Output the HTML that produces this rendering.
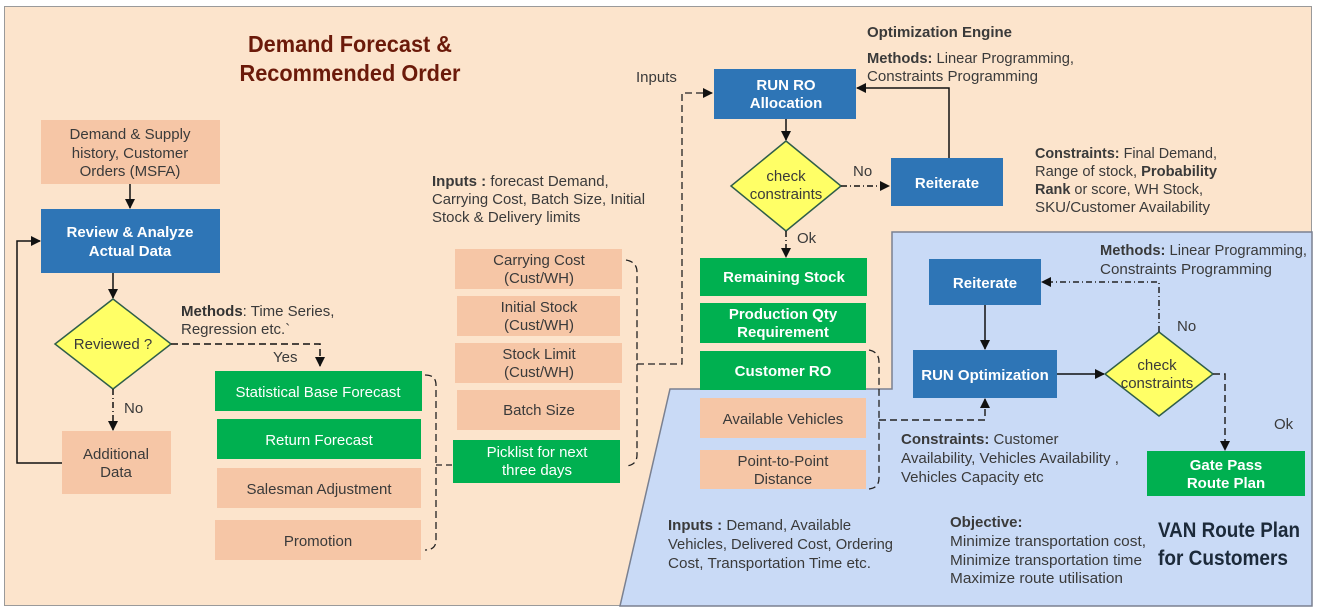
<!DOCTYPE html>
<html><head><meta charset="utf-8"><style>
html,body{margin:0;padding:0;background:#fff;}
svg{display:block;}
text{font-family:"Liberation Sans Narrow","Liberation Sans",sans-serif;font-size:15px;fill:#3a3a3a;}
.w{fill:#fff;font-weight:bold;text-anchor:middle;}
.c{text-anchor:middle;}
.b{font-weight:bold;}
</style></head><body>
<svg width="1318" height="614" viewBox="0 0 1318 614" xmlns="http://www.w3.org/2000/svg">
<defs>
<marker id="a" markerWidth="10" markerHeight="10" refX="9" refY="5" orient="auto" markerUnits="userSpaceOnUse"><path d="M0,0 L10,5 L0,10 z" fill="#111"/></marker>
</defs>
<rect x="0" y="0" width="1318" height="614" fill="#fff"/>
<rect x="4.5" y="6.5" width="1307" height="599" fill="#fce4cc" stroke="#9a9a9a"/>
<polygon points="892,232 1312,232 1312,606 620,606 670,389 892,389" fill="#c9daf6" stroke="#7a8090" stroke-width="1.5"/>

<text x="350" y="52" class="c b" style="font-size:23px;fill:#6b1a0a" textLength="204" lengthAdjust="spacingAndGlyphs">Demand Forecast &amp;</text>
<text x="350" y="81" class="c b" style="font-size:23px;fill:#6b1a0a" textLength="221" lengthAdjust="spacingAndGlyphs">Recommended Order</text>

<!-- left column -->
<rect x="41" y="120" width="179" height="64" fill="#f6c6a6"/>
<text x="130" y="139" class="c">Demand &amp; Supply</text>
<text x="130" y="158" class="c">history, Customer</text>
<text x="130" y="176" class="c">Orders (MSFA)</text>
<line x1="130" y1="184" x2="130" y2="208" stroke="#111" stroke-width="1.5" marker-end="url(#a)"/>
<rect x="41" y="209" width="179" height="64" fill="#2e75b6"/>
<text x="130" y="237" class="w">Review &amp; Analyze</text>
<text x="130" y="256" class="w">Actual Data</text>
<line x1="113" y1="273" x2="113" y2="298" stroke="#111" stroke-width="1.5" marker-end="url(#a)"/>
<polygon points="113,299 171,344 113,389 55,344" fill="#ffff66" stroke="#2f5e4a" stroke-width="1.5"/>
<text x="113" y="349" class="c">Reviewed ?</text>
<line x1="113" y1="389" x2="113" y2="430" stroke="#111" stroke-width="1.5" stroke-dasharray="6,3,1,3" marker-end="url(#a)"/>
<text x="124" y="413">No</text>
<rect x="62" y="431" width="109" height="63" fill="#f6c6a6"/>
<text x="116" y="459" class="c">Additional</text>
<text x="116" y="477" class="c">Data</text>
<polyline points="62,463 17,463 17,241 40,241" fill="none" stroke="#111" stroke-width="1.5" marker-end="url(#a)"/>
<polyline points="171,344 320,344 320,366" fill="none" stroke="#111" stroke-width="1.5" stroke-dasharray="7,4" marker-end="url(#a)"/>
<text x="273" y="362">Yes</text>
<text x="181" y="316"><tspan class="b" style="fill:#333">Methods</tspan>: Time Series,</text>
<text x="181" y="334">Regression etc.`</text>

<rect x="215" y="371" width="207" height="40" fill="#00b050"/>
<text x="318" y="397" class="w" style="font-weight:normal">Statistical Base Forecast</text>
<rect x="217" y="419" width="204" height="40" fill="#00b050"/>
<text x="319" y="445" class="w" style="font-weight:normal">Return Forecast</text>
<rect x="217" y="468" width="204" height="40" fill="#f6c6a6"/>
<text x="319" y="494" class="c">Salesman Adjustment</text>
<rect x="215" y="520" width="206" height="40" fill="#f6c6a6"/>
<text x="318" y="546" class="c">Promotion</text>
<path d="M425,375 Q436,375 436,385 L436,540 Q436,550 425,550" fill="none" stroke="#222" stroke-width="1.3" stroke-dasharray="7,4"/>
<line x1="436" y1="465" x2="453" y2="465" stroke="#222" stroke-width="1.3" stroke-dasharray="6,4"/>

<text x="432" y="186"><tspan class="b">Inputs :</tspan> forecast Demand,</text>
<text x="432" y="204" textLength="213" lengthAdjust="spacingAndGlyphs">Carrying Cost, Batch Size, Initial</text>
<text x="432" y="222">Stock &amp; Delivery limits</text>

<rect x="455" y="249" width="167" height="40" fill="#f6c6a6"/>
<text x="539" y="265" class="c">Carrying Cost</text><text x="539" y="283" class="c">(Cust/WH)</text>
<rect x="457" y="296" width="163" height="40" fill="#f6c6a6"/>
<text x="539" y="312" class="c">Initial Stock</text><text x="539" y="330" class="c">(Cust/WH)</text>
<rect x="455" y="343" width="167" height="40" fill="#f6c6a6"/>
<text x="539" y="359" class="c">Stock Limit</text><text x="539" y="377" class="c">(Cust/WH)</text>
<rect x="457" y="390" width="163" height="40" fill="#f6c6a6"/>
<text x="539" y="415" class="c">Batch Size</text>
<rect x="453" y="440" width="167" height="43" fill="#00b050"/>
<text x="537" y="457" class="w" style="font-weight:normal">Picklist for next</text>
<text x="537" y="475" class="w" style="font-weight:normal">three days</text>
<path d="M626,260 Q637,262 637,272 L637,455 Q637,465 626,466" fill="none" stroke="#222" stroke-width="1.3" stroke-dasharray="7,4"/>
<polyline points="637,364 682,364 682,93 712,93" fill="none" stroke="#222" stroke-width="1.3" stroke-dasharray="7,4" marker-end="url(#a)"/>
<text x="636" y="82">Inputs</text>

<!-- RO engine -->
<text x="867" y="37" class="b">Optimization Engine</text>
<text x="867" y="63" textLength="207" lengthAdjust="spacingAndGlyphs"><tspan class="b">Methods:</tspan> Linear Programming,</text>
<text x="867" y="81" textLength="171" lengthAdjust="spacingAndGlyphs">Constraints Programming</text>
<rect x="714" y="69" width="142" height="50" fill="#2e75b6"/>
<text x="786" y="90" class="w">RUN RO</text>
<text x="786" y="108" class="w">Allocation</text>
<line x1="786" y1="119" x2="786" y2="140" stroke="#111" stroke-width="1.5" marker-end="url(#a)"/>
<polygon points="786,141 841,186 786,231 731,186" fill="#ffff66" stroke="#2f5e4a" stroke-width="1.5"/>
<text x="786" y="181" class="c">check</text>
<text x="786" y="199" class="c">constraints</text>
<line x1="841" y1="186" x2="889" y2="186" stroke="#111" stroke-width="1.5" stroke-dasharray="6,3,1,3" marker-end="url(#a)"/>
<text x="853" y="176">No</text>
<rect x="891" y="158" width="112" height="48" fill="#2e75b6"/>
<text x="947" y="188" class="w">Reiterate</text>
<polyline points="949,158 949,88 857,88" fill="none" stroke="#111" stroke-width="1.5" marker-end="url(#a)"/>
<text x="1035" y="158" textLength="182" lengthAdjust="spacingAndGlyphs"><tspan class="b">Constraints:</tspan> Final Demand,</text>
<text x="1035" y="176" textLength="182" lengthAdjust="spacingAndGlyphs">Range of stock, <tspan class="b">Probability</tspan></text>
<text x="1035" y="194" textLength="168" lengthAdjust="spacingAndGlyphs"><tspan class="b">Rank</tspan> or score, WH Stock,</text>
<text x="1035" y="212" textLength="175" lengthAdjust="spacingAndGlyphs">SKU/Customer Availability</text>
<line x1="786" y1="231" x2="786" y2="257" stroke="#111" stroke-width="1.5" stroke-dasharray="6,3,1,3" marker-end="url(#a)"/>
<text x="797" y="243">Ok</text>

<rect x="700" y="258" width="167" height="38" fill="#00b050"/>
<text x="784" y="282" class="w">Remaining Stock</text>
<rect x="700" y="303" width="166" height="40" fill="#00b050"/>
<text x="783" y="319" class="w">Production Qty</text>
<text x="783" y="337" class="w">Requirement</text>
<rect x="700" y="351" width="166" height="39" fill="#00b050"/>
<text x="783" y="376" class="w">Customer RO</text>
<rect x="700" y="398" width="166" height="40" fill="#f6c6a6"/>
<text x="783" y="424" class="c">Available Vehicles</text>
<rect x="700" y="450" width="166" height="39" fill="#f6c6a6"/>
<text x="783" y="466" class="c">Point-to-Point</text>
<text x="783" y="484" class="c">Distance</text>
<path d="M869,350 Q879,352 879,362 L879,478 Q879,488 869,489" fill="none" stroke="#222" stroke-width="1.3" stroke-dasharray="7,4"/>
<polyline points="879,420 985,420 985,399" fill="none" stroke="#222" stroke-width="1.5" stroke-dasharray="7,4" marker-end="url(#a)"/>

<!-- VAN -->
<text x="1100" y="255" textLength="207" lengthAdjust="spacingAndGlyphs"><tspan class="b">Methods:</tspan> Linear Programming,</text>
<text x="1100" y="274" textLength="172" lengthAdjust="spacingAndGlyphs">Constraints Programming</text>
<rect x="929" y="259" width="112" height="46" fill="#2e75b6"/>
<text x="985" y="288" class="w">Reiterate</text>
<line x1="985" y1="305" x2="985" y2="349" stroke="#111" stroke-width="1.5" marker-end="url(#a)"/>
<rect x="913" y="350" width="144" height="48" fill="#2e75b6"/>
<text x="985" y="380" class="w">RUN Optimization</text>
<line x1="1057" y1="374" x2="1104" y2="374" stroke="#111" stroke-width="1.5" marker-end="url(#a)"/>
<polygon points="1159,332 1213,374 1159,416 1105,374" fill="#ffff66" stroke="#2f5e4a" stroke-width="1.5"/>
<text x="1157" y="370" class="c">check</text>
<text x="1157" y="388" class="c">constraints</text>
<polyline points="1159,332 1159,282 1042,282" fill="none" stroke="#222" stroke-width="1.5" stroke-dasharray="6,3,1,3" marker-end="url(#a)"/>
<text x="1177" y="331">No</text>
<polyline points="1213,374 1225,374 1225,450" fill="none" stroke="#222" stroke-width="1.5" stroke-dasharray="7,4" marker-end="url(#a)"/>
<text x="1274" y="429">Ok</text>
<rect x="1147" y="451" width="158" height="45" fill="#00b050"/>
<text x="1226" y="470" class="w">Gate Pass</text>
<text x="1226" y="488" class="w">Route Plan</text>
<text x="901" y="444"><tspan class="b">Constraints:</tspan> Customer</text>
<text x="901" y="463" textLength="218" lengthAdjust="spacingAndGlyphs">Availability, Vehicles Availability ,</text>
<text x="901" y="482">Vehicles Capacity etc</text>
<text x="668" y="530"><tspan class="b">Inputs :</tspan> Demand, Available</text>
<text x="668" y="549" textLength="225" lengthAdjust="spacingAndGlyphs">Vehicles, Delivered Cost, Ordering</text>
<text x="668" y="568" textLength="203" lengthAdjust="spacingAndGlyphs">Cost, Transportation Time etc.</text>
<text x="950" y="527" class="b">Objective:</text>
<text x="950" y="546" textLength="196" lengthAdjust="spacingAndGlyphs">Minimize transportation cost,</text>
<text x="950" y="565" textLength="192" lengthAdjust="spacingAndGlyphs">Minimize transportation time</text>
<text x="950" y="583" textLength="173" lengthAdjust="spacingAndGlyphs">Maximize route utilisation</text>
<text x="1158" y="537" class="b" style="font-size:21px;fill:#1c2a3a" textLength="142" lengthAdjust="spacingAndGlyphs">VAN Route Plan</text>
<text x="1158" y="565" class="b" style="font-size:21px;fill:#1c2a3a" textLength="130" lengthAdjust="spacingAndGlyphs">for Customers</text>
</svg>
</body></html>
